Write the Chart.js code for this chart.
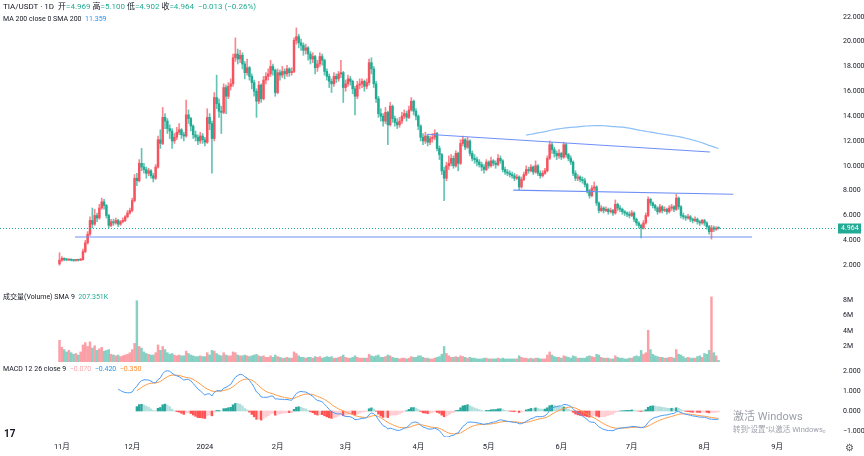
<!DOCTYPE html>
<html>
<head>
<meta charset="utf-8">
<title>TIA/USDT 1D</title>
<script src="https://cdn.jsdelivr.net/npm/chart.js"></script>
<style>
  body { margin: 0; background: #fff; font-family: Roboto, "Noto Sans CJK SC", sans-serif; }
  #wrap { position: relative; width: 864px; height: 456px; overflow: hidden; }
  canvas { position: absolute; left: 0; }
  .txt { position: absolute; white-space: nowrap; color: #131722; font-size: 7px; line-height: 9px; }
  .up { color: #f7525f; }
  .dn { color: #22ab94; }
</style>
</head>
<body>
<div id="wrap">
  <canvas id="main" width="864" height="292" style="top:0"></canvas>
  <canvas id="vol" width="864" height="70" style="top:292px"></canvas>
  <canvas id="macd" width="864" height="94" style="top:362px"></canvas>

  <div class="txt" style="left:3px;top:2px;font-size:8px;">TIA/USDT · 1D&nbsp; 开<span class="dn">=4.969</span> 高<span class="dn">=5.100</span> 低<span class="dn">=4.902</span> 收<span class="dn">=4.964&nbsp; −0.013 (−0.26%)</span></div>
  <div class="txt" style="left:3px;top:15px;">MA 200 close 0 SMA 200&nbsp; <span style="color:#2196f3">11.359</span></div>
  <div class="txt" style="left:3px;top:293px;">成交量(Volume) SMA 9&nbsp; <span class="dn">207.351K</span></div>
  <div class="txt" style="left:3px;top:365px;">MACD 12 26 close 9&nbsp; <span style="color:#f8a5ab">−0.070</span>&nbsp; <span style="color:#2196f3">−0.420</span>&nbsp; <span style="color:#ff8c2e">−0.350</span></div>

  <div class="txt" style="left:733px;top:410px;font-size:11px;line-height:13px;color:#9a9ea8;">激活 Windows</div>
  <div class="txt" style="left:733px;top:425px;font-size:7.5px;color:#9a9ea8;">转到"设置"以激活 Windows。</div>
  <div class="txt" style="left:4px;top:429px;font-size:10px;font-weight:bold;color:#131722;">17</div>
  <div class="txt" style="left:845px;top:442px;font-size:10px;line-height:11px;color:#555;">⚙</div>
</div>

<script>
// day index 0 = 2023-10-31, one candle per day
const monthTicks = [1, 31, 62, 93, 122, 153, 183, 214, 244, 275, 306];
const monthLabels = ['11月', '12月', '2024', '2月', '3月', '4月', '5月', '6月', '7月', '8月', '9月'];

const firstOpen = 2.1;
const closes = [
  2.40,2.55,2.45,2.42,2.44,2.40,2.38,2.42,2.40,2.45,
  3.10,3.80,4.50,5.60,5.30,6.00,5.80,6.60,7.10,6.80,
  6.00,5.20,5.50,5.40,5.60,5.30,5.50,5.60,5.90,6.20,
  6.40,7.20,9.00,8.80,10.20,9.90,9.70,9.40,9.60,9.20,
  9.00,9.90,12.10,11.80,13.90,13.60,13.00,12.80,12.00,12.30,
  12.70,12.90,12.50,12.40,14.10,13.80,13.20,12.50,12.30,12.00,
  12.40,12.10,11.90,13.90,13.40,12.20,15.50,15.00,14.40,14.30,
  16.30,15.60,16.40,16.60,18.70,19.00,18.60,18.90,18.20,17.50,
  17.90,17.20,16.70,16.00,15.20,16.50,15.40,16.90,17.20,17.40,
  18.00,17.70,15.90,17.50,17.30,17.60,17.40,17.80,17.50,17.60,
  20.10,20.40,19.90,19.70,19.30,19.50,19.00,18.60,18.80,17.90,
  18.20,18.80,18.50,17.60,17.20,16.80,16.60,17.20,17.00,17.40,
  17.50,16.30,16.60,17.00,16.80,16.20,15.60,16.50,16.60,16.80,
  16.40,16.70,18.30,17.80,16.60,15.40,14.20,14.00,13.60,14.30,
  13.30,14.80,13.80,13.50,13.30,13.60,14.00,14.20,13.90,14.50,
  15.20,14.40,14.00,13.20,12.30,12.00,12.40,11.90,12.20,12.30,
  12.60,11.40,10.90,9.60,9.00,10.00,10.20,10.60,10.00,11.00,
  10.20,11.80,12.10,11.50,12.00,11.00,10.60,10.50,10.30,10.10,
  9.90,9.70,10.30,10.00,10.40,10.20,10.10,10.60,10.40,9.70,
  9.50,9.40,9.30,9.20,9.00,9.10,8.30,8.90,9.30,9.70,
  9.60,9.90,9.50,10.00,9.40,9.20,9.40,9.60,10.60,11.70,
  11.30,11.00,10.80,11.00,10.70,11.70,10.90,10.60,10.30,9.40,
  9.00,9.10,8.90,8.80,8.50,8.00,7.60,8.20,8.30,7.00,
  6.40,6.60,6.40,6.50,6.30,6.40,6.20,6.90,6.60,6.50,
  6.30,6.20,6.10,6.00,6.20,5.70,5.40,5.20,5.00,5.40,
  6.00,7.30,7.00,6.80,6.60,6.30,6.70,6.40,6.50,6.30,
  6.60,6.70,6.50,7.40,6.70,6.00,5.90,5.80,5.90,5.70,
  5.60,5.70,5.50,5.40,5.60,5.40,5.10,4.70,5.00,4.90,
  4.969,4.964
];
const highs = [
  3.0,2.7,2.6,2.55,2.5,2.5,2.46,2.48,2.47,2.55,
  3.3,4.0,4.7,5.9,6.6,6.5,6.2,6.9,7.4,7.3,
  6.9,6.1,5.7,5.7,5.8,5.7,5.6,5.8,6.0,6.4,
  6.6,7.4,9.3,9.4,10.5,11.4,10.2,9.9,9.8,9.7,
  9.4,10.1,12.4,12.9,14.7,14.2,13.8,13.3,13.0,12.6,
  13.1,13.4,13.0,12.7,15.3,14.5,13.9,13.3,12.8,12.5,
  12.7,12.6,12.3,14.6,14.2,13.6,15.9,17.3,15.4,14.8,
  16.6,16.5,16.7,17.0,19.0,20.3,19.4,19.3,19.1,18.4,
  18.6,18.0,17.4,16.9,16.2,16.8,16.6,17.2,17.5,17.8,
  18.5,18.2,17.8,17.8,17.7,18.0,17.8,18.1,17.9,17.9,
  20.3,21.1,20.6,20.2,19.9,19.8,19.6,19.2,19.1,18.9,
  18.5,19.1,19.0,18.6,17.8,17.4,17.0,17.5,17.4,17.6,
  18.5,17.6,16.9,17.3,17.2,16.9,16.4,16.8,17.0,17.0,
  16.9,17.0,18.6,18.7,18.0,16.8,15.6,14.6,14.2,14.7,
  14.4,15.1,14.9,14.0,13.8,13.9,14.3,14.5,14.4,14.8,
  15.5,15.3,14.6,14.1,13.3,12.6,12.7,12.5,12.4,12.6,
  12.9,12.7,11.6,11.0,9.9,10.3,10.8,10.9,10.8,11.2,
  11.1,12.1,12.4,12.2,12.3,12.1,11.2,10.9,10.7,10.5,
  10.3,10.1,10.5,10.4,10.7,10.5,10.4,10.9,10.8,10.5,
  9.9,9.7,9.6,9.5,9.4,9.3,9.2,9.1,9.5,10.0,
  9.9,10.1,10.0,10.4,10.1,9.6,9.6,9.8,10.8,12.0,
  11.9,11.5,11.2,11.3,11.1,11.9,11.8,11.0,10.8,10.4,
  9.6,9.3,9.2,9.1,9.0,8.6,8.1,8.4,8.7,8.4,
  7.1,6.8,6.7,6.7,6.6,6.6,6.5,7.25,7.0,6.8,
  6.6,6.4,6.3,6.3,6.4,6.3,5.8,5.5,5.3,5.6,
  6.2,7.5,7.4,7.1,6.9,6.7,6.9,6.8,6.7,6.6,
  6.8,6.9,6.8,7.7,7.5,6.8,6.2,6.0,6.1,6.0,
  5.8,5.9,5.8,5.6,5.7,5.7,5.5,5.2,5.2,5.15,
  5.1,5.1
];
const lows = [
  2.0,2.3,2.35,2.35,2.36,2.34,2.3,2.33,2.34,2.36,
  2.4,3.0,3.7,4.4,5.0,5.2,5.5,5.7,6.5,6.5,
  5.8,5.0,5.1,5.2,5.3,5.1,5.2,5.4,5.5,5.8,
  6.1,6.3,7.1,8.4,8.7,9.6,9.4,9.0,9.2,9.0,
  8.7,8.9,9.8,11.4,11.7,13.0,12.6,12.2,11.4,11.8,
  12.1,12.5,12.2,12.0,12.3,13.4,12.8,12.2,12.0,11.7,
  11.8,11.8,11.6,11.8,12.9,9.4,12.0,14.6,13.9,12.6,
  14.2,14.2,15.4,16.1,16.4,18.4,18.2,18.3,17.8,17.0,
  17.3,16.9,16.2,15.6,13.9,15.0,15.1,15.3,16.6,16.9,
  17.2,17.3,15.6,15.8,16.9,17.1,17.0,17.2,17.2,17.3,
  17.5,19.8,19.5,19.3,18.9,19.0,18.5,18.2,18.3,17.4,
  17.6,18.0,18.1,17.3,16.9,16.3,15.9,16.4,16.7,16.8,
  17.1,15.1,16.0,16.4,16.5,15.8,14.1,15.4,16.2,16.3,
  16.0,16.2,16.5,17.4,16.3,15.1,13.9,13.6,13.2,13.4,
  11.7,13.2,13.5,13.2,13.0,13.1,13.4,13.8,13.6,13.8,
  14.4,14.1,13.7,12.9,12.0,11.7,11.8,11.6,11.7,11.9,
  12.1,11.2,10.5,9.3,7.2,8.8,9.7,10.0,9.8,9.9,
  9.6,10.1,11.6,11.3,11.4,10.8,10.4,10.2,10.0,9.9,
  9.6,9.4,9.6,9.8,9.9,10.0,9.8,10.0,10.2,9.5,
  9.3,9.2,9.1,9.0,8.8,8.9,8.05,8.2,8.8,9.2,
  9.4,9.5,9.3,9.4,9.2,9.0,9.1,9.3,9.5,10.5,
  11.0,10.7,10.5,10.6,10.5,10.6,10.7,10.4,10.1,9.2,
  8.8,8.8,8.7,8.6,8.3,7.8,7.4,7.5,8.0,6.8,
  6.2,6.3,6.2,6.3,6.1,6.2,6.0,6.1,6.4,6.3,
  6.1,6.0,5.9,5.8,5.9,5.5,5.2,5.0,4.2,4.9,
  5.3,5.9,6.8,6.6,6.4,6.1,6.2,6.2,6.3,6.1,
  6.2,6.4,6.3,6.4,6.5,5.8,5.7,5.6,5.7,5.5,
  5.4,5.5,5.3,5.2,5.3,5.2,4.9,4.5,4.1,4.7,
  4.8,4.902
];
// volume in millions
const volumes = [
  2.8,1.9,1.6,1.3,1.5,1.2,1.0,1.1,0.9,1.3,
  2.2,2.5,2.0,2.6,1.8,2.1,1.5,1.7,1.9,1.4,
  1.5,1.6,1.0,0.9,0.8,0.9,0.7,0.8,0.9,1.0,
  1.2,1.6,2.4,7.9,2.0,1.8,1.3,1.1,1.0,0.9,
  0.9,1.2,2.2,1.5,2.0,1.6,1.2,1.0,1.1,0.9,
  0.8,0.9,0.8,0.8,1.4,1.1,0.9,0.8,0.7,0.7,
  0.8,0.7,0.7,1.2,0.9,1.5,1.4,1.1,0.9,0.8,
  1.2,0.9,0.8,0.8,1.3,1.2,0.9,0.8,0.8,0.9,
  0.8,0.7,0.8,0.9,1.0,0.8,0.7,0.8,0.6,0.6,
  0.8,0.6,0.9,0.7,0.6,0.5,0.5,0.6,0.5,0.5,
  1.3,1.1,0.8,0.6,0.6,0.5,0.6,0.6,0.5,0.7,
  0.6,0.7,0.5,0.6,0.7,0.6,0.7,0.5,0.5,0.6,
  0.7,0.9,0.6,0.5,0.5,0.6,0.8,0.6,0.5,0.5,
  0.5,0.5,1.0,0.8,0.7,0.8,0.9,0.6,0.6,0.7,
  0.9,0.8,0.6,0.5,0.5,0.4,0.5,0.5,0.4,0.5,
  0.7,0.6,0.6,0.8,0.8,0.6,0.5,0.5,0.4,0.4,
  0.5,0.6,0.7,1.0,2.0,1.1,0.8,0.6,0.6,0.7,
  0.6,0.8,0.7,0.6,0.5,0.6,0.5,0.5,0.4,0.4,
  0.4,0.5,0.5,0.4,0.4,0.4,0.4,0.5,0.4,0.5,
  0.4,0.4,0.4,0.4,0.4,0.4,0.8,0.6,0.5,0.5,
  0.4,0.5,0.4,0.5,0.5,0.4,0.4,0.4,0.9,1.3,
  0.9,0.7,0.6,0.6,0.5,0.8,0.7,0.6,0.5,0.8,
  0.7,0.5,0.5,0.5,0.5,0.7,0.8,0.7,0.6,1.0,
  0.9,0.6,0.5,0.5,0.5,0.4,0.4,0.8,0.6,0.5,
  0.5,0.4,0.4,0.5,0.5,0.7,0.8,0.7,1.5,1.0,
  1.2,4.1,1.6,1.0,0.8,0.7,0.6,0.6,0.5,0.5,
  0.6,0.6,0.5,1.6,1.0,0.9,0.7,0.5,0.6,0.5,
  0.5,0.5,0.7,0.8,0.6,1.1,1.0,1.5,8.4,1.2,
  0.8,0.2
];
// hand-drawn trend lines: [day index, price] end points
const trendLines = [
  [[6.6, 4.27], [295.3, 4.27]],
  [[156.6, 12.54], [277.4, 11.11]],
  [[193.5, 8.05], [287.3, 7.71]]
];
const priceTicks = [2, 4, 6, 8, 10, 12, 14, 16, 18, 20, 22];
const volTicks = [2, 4, 6, 8];
const macdTicks = [2, 1, 0, -1];

const UP = '#f7525f', DOWN = '#22ab94';
const FONT = 'Roboto, "Noto Sans CJK SC", sans-serif';
const X_MIN = -25.37, X_MAX = 331.1;

const opens = [firstOpen].concat(closes.slice(0, -1));
const idx = closes.map((c, i) => i);
const isUp = idx.map(i => closes[i] >= opens[i]);

// indicators
function sma(src, len) {
  return src.map((v, i) => {
    if (i < len - 1) return null;
    let s = 0;
    for (let k = i - len + 1; k <= i; k++) s += src[k];
    return s / len;
  });
}
function ema(src, len) {
  const out = src.map(() => null);
  const start = src.findIndex(v => v != null);
  if (start < 0 || start + len > src.length) return out;
  let s = 0;
  for (let k = start; k < start + len; k++) s += src[k];
  let prev = s / len;
  out[start + len - 1] = prev;
  const a = 2 / (len + 1);
  for (let i = start + len; i < src.length; i++) {
    prev = a * src[i] + (1 - a) * prev;
    out[i] = prev;
  }
  return out;
}
const ma200 = sma(closes, 200);
const e12 = ema(closes, 12), e26 = ema(closes, 26);
const macdLine = closes.map((c, i) => (e12[i] != null && e26[i] != null) ? e12[i] - e26[i] : null);
const signal = ema(macdLine, 9);
const hist = macdLine.map((m, i) => (m != null && signal[i] != null) ? m - signal[i] : null);

function xScale(show) {
  return {
    type: 'linear', min: X_MIN, max: X_MAX, display: show, offset: false,
    grid: { display: false, drawTicks: false }, border: { display: false },
    afterBuildTicks: s => { s.ticks = monthTicks.map(v => ({ value: v })); },
    afterFit: s => { if (show) s.height = 19; s.paddingLeft = 0; s.paddingRight = 0; },
    ticks: {
      autoSkip: false, maxRotation: 0, padding: 6, color: '#131722',
      font: { family: FONT, size: 7.5 },
      callback: v => { const k = monthTicks.indexOf(v); return k >= 0 ? monthLabels[k] : ''; }
    }
  };
}
function yScale(min, max, ticks, fmt) {
  return {
    position: 'right', min, max,
    grid: { display: false, drawTicks: false }, border: { display: false },
    afterBuildTicks: s => { s.ticks = ticks.map(v => ({ value: v })); },
    afterFit: s => { s.width = 28; s.paddingTop = 0; s.paddingBottom = 0; },
    ticks: { padding: 7, color: '#131722', font: { family: FONT, size: 7 }, callback: fmt }
  };
}
const baseOpts = {
  responsive: false, animation: false, events: [],
  layout: { padding: 0 },
  plugins: { legend: { display: false }, tooltip: { enabled: false } }
};

const lastLine = {
  id: 'lastLine',
  afterDatasetsDraw(chart) {
    const { ctx, chartArea, scales } = chart;
    const last = closes[closes.length - 1];
    const y = Math.round(scales.y.getPixelForValue(last)) + 0.5;
    ctx.save();
    ctx.strokeStyle = DOWN; ctx.lineWidth = 1; ctx.setLineDash([1, 2]);
    ctx.beginPath(); ctx.moveTo(chartArea.left, y); ctx.lineTo(chartArea.right, y); ctx.stroke();
    ctx.setLineDash([]);
    ctx.fillStyle = DOWN;
    ctx.fillRect(chartArea.right + 2, y - 5, 23, 10);
    ctx.fillStyle = '#fff'; ctx.font = '7px ' + FONT; ctx.textBaseline = 'middle';
    ctx.fillText(last.toFixed(3), chartArea.right + 5, y);
    ctx.restore();
  }
};

new Chart(document.getElementById('main'), {
  type: 'bar',
  data: {
    datasets: [
      {
        data: idx.map(i => ({ x: i, y: [lows[i], highs[i]] })),
        backgroundColor: idx.map(i => isUp[i] ? 'rgba(247,82,95,0.7)' : 'rgba(34,171,148,0.7)'),
        barThickness: 1, grouped: false, order: 2
      },
      {
        data: idx.map(i => ({ x: i, y: [Math.min(opens[i], closes[i]), Math.max(opens[i], closes[i])] })),
        backgroundColor: idx.map(i => isUp[i] ? UP : DOWN),
        barThickness: 1.8, minBarLength: 1, grouped: false, order: 1
      },
      {
        type: 'line', data: idx.map(i => ({ x: i, y: ma200[i] })),
        borderColor: '#8cc0f7', borderWidth: 1.2, pointRadius: 0, spanGaps: false, order: 0
      },
      ...trendLines.map(t => ({
        type: 'line', data: t.map(p => ({ x: p[0], y: p[1] })),
        borderColor: '#6e8ff6', borderWidth: 1.2, pointRadius: 0, order: 0
      }))
    ]
  },
  options: {
    ...baseOpts,
    scales: {
      x: xScale(false),
      y: yScale(-0.16, 23.35, priceTicks, v => v.toFixed(3))
    }
  },
  plugins: [lastLine]
});

new Chart(document.getElementById('vol'), {
  type: 'bar',
  data: {
    datasets: [{
      data: idx.map(i => ({ x: i, y: volumes[i] })),
      backgroundColor: idx.map(i => isUp[i] ? 'rgba(247,82,95,0.55)' : 'rgba(34,171,148,0.55)'),
      barThickness: 1.8, grouped: false
    }]
  },
  options: {
    ...baseOpts,
    scales: {
      x: xScale(false),
      y: yScale(0, 9.03, volTicks, v => v + 'M')
    }
  }
});

new Chart(document.getElementById('macd'), {
  type: 'bar',
  data: {
    datasets: [
      {
        data: idx.map(i => ({ x: i, y: hist[i] })),
        backgroundColor: idx.map(i => {
          const h = hist[i], p = i > 0 ? hist[i - 1] : null;
          if (h == null) return 'transparent';
          if (h >= 0) return (p == null || h > p) ? '#26a69a' : '#b2dfdb';
          return (p == null || h < p) ? '#ff5252' : '#ffcdd2';
        }),
        barThickness: 1.8, grouped: false, order: 2
      },
      {
        type: 'line', data: idx.map(i => ({ x: i, y: macdLine[i] })),
        borderColor: '#4a9af5', borderWidth: 1, pointRadius: 0, order: 0
      },
      {
        type: 'line', data: idx.map(i => ({ x: i, y: signal[i] })),
        borderColor: '#ff9a45', borderWidth: 1, pointRadius: 0, order: 1
      }
    ]
  },
  options: {
    ...baseOpts,
    scales: {
      x: xScale(true),
      y: yScale(-1.3, 2.45, macdTicks, v => (v < 0 ? '−' : '') + Math.abs(v).toFixed(3))
    }
  }
});
</script>
</body>
</html>
